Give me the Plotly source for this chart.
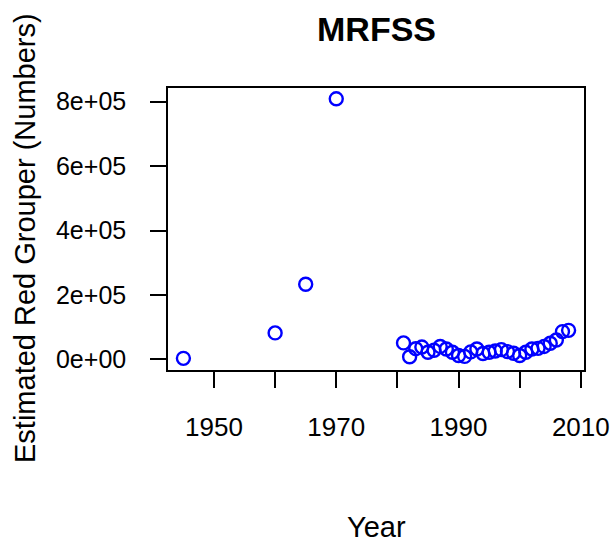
import plotly.graph_objects as go

# Estimated recreational catch of red grouper (numbers of fish) by year
years = [1945, 1960, 1965, 1970,
         1981, 1982, 1983, 1984, 1985, 1986, 1987, 1988, 1989, 1990,
         1991, 1992, 1993, 1994, 1995, 1996, 1997, 1998, 1999, 2000,
         2001, 2002, 2003, 2004, 2005, 2006, 2007, 2008]
numbers = [3000, 82000, 233000, 809000,
           51000, 8000, 33000, 38000, 22000, 28000, 40000, 32000, 22000, 12000,
           9000, 23000, 32000, 18000, 22000, 26000, 30000, 24000, 19000, 12000,
           22000, 32000, 34000, 40000, 50000, 60000, 86000, 90000]

x_ticks = [1950, 1960, 1970, 1980, 1990, 2000, 2010]
x_labels = ["1950", "", "1970", "", "1990", "", "2010"]
y_ticks = [0, 200000, 400000, 600000, 800000]
y_labels = ["0e+00", "2e+05", "4e+05", "6e+05", "8e+05"]

FONT = "Liberation Sans, Arial, Helvetica, sans-serif"

fig = go.Figure(
    go.Scatter(
        x=years, y=numbers, mode="markers",
        marker=dict(symbol="circle-open", size=13, color="#0000FF",
                    line=dict(width=2.4, color="#0000FF")),
        hoverinfo="x+y",
    )
)

axis_common = dict(
    showgrid=False, zeroline=False, showline=True, mirror=True,
    linecolor="black", linewidth=1.6,
    ticks="outside", ticklen=16, tickwidth=1.6, tickcolor="black",
    automargin=False,
)

fig.update_xaxes(range=[1942.48, 2010.52], tickvals=x_ticks, ticktext=x_labels,
                 ticklabelstandoff=17,
                 tickfont=dict(family=FONT, size=26, color="black"), **axis_common)
fig.update_yaxes(range=[-33200, 842600], tickvals=y_ticks, ticktext=y_labels,
                 ticklabelstandoff=19,
                 tickfont=dict(family=FONT, size=25, color="black"), **axis_common)

fig.add_annotation(text="<b>MRFSS</b>", xref="paper", yref="paper",
                   x=0.5, y=(370 - 29) / 282, showarrow=False,
                   xanchor="center", yanchor="middle",
                   font=dict(family=FONT, size=34, color="black"))
fig.add_annotation(text="Year", xref="paper", yref="paper",
                   x=0.5, y=(370 - 527) / 282, showarrow=False,
                   xanchor="center", yanchor="middle",
                   font=dict(family=FONT, size=29, color="black"))
fig.add_annotation(text="Estimated Red Grouper (Numbers)", xref="paper", yref="paper",
                   x=(25 - 168) / 416, y=(370 - 238) / 282, textangle=-90, showarrow=False,
                   xanchor="center", yanchor="middle",
                   font=dict(family=FONT, size=29, color="black"))

fig.update_layout(
    width=613, height=543,
    margin=dict(l=168, r=29, t=88, b=173),
    paper_bgcolor="white", plot_bgcolor="white",
    showlegend=False,
)

fig.write_html("out.html")
